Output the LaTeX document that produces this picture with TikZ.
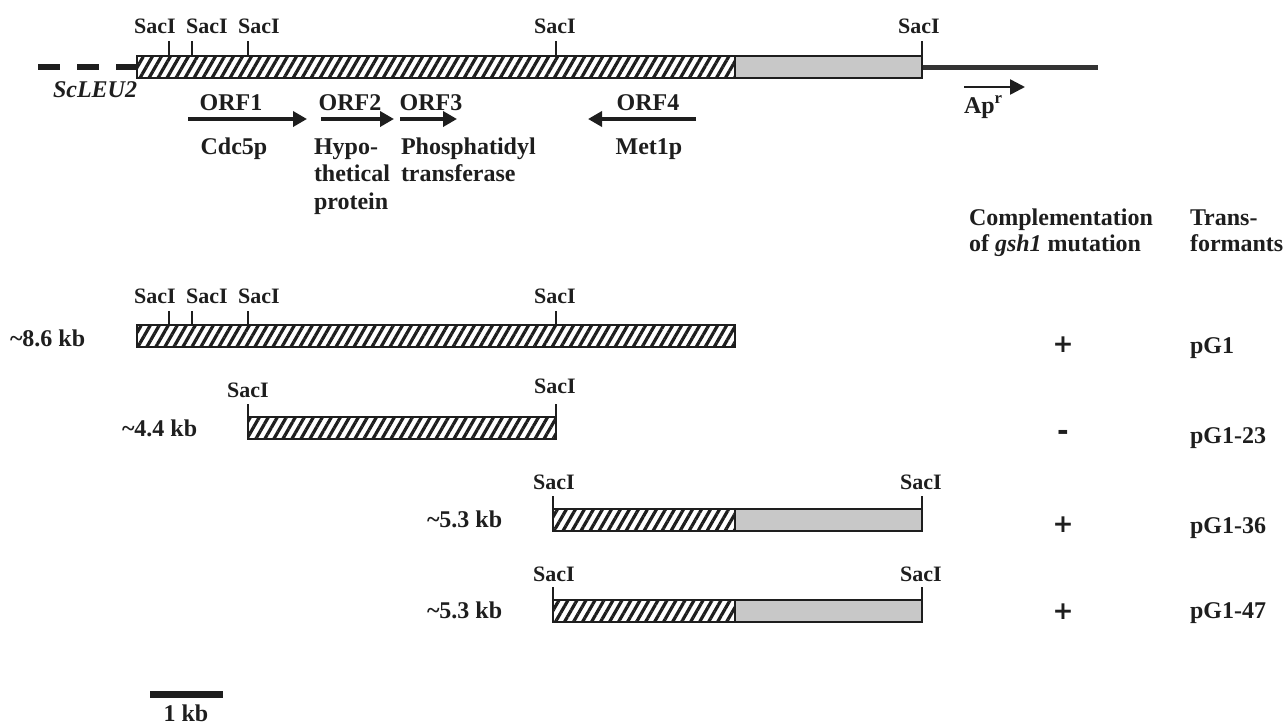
\documentclass[tikz,border=0pt]{standalone}
\usepackage{fontspec}
\setmainfont{Liberation Serif}
\newfontfamily\signfont{DejaVu Sans}
\usetikzlibrary{arrows.meta,patterns.meta}
\definecolor{boxgray}{RGB}{200,200,200}
\definecolor{ink}{RGB}{30,30,30}
\begin{document}
\begin{tikzpicture}[x=1pt,y=-1pt,
  every node/.style={inner sep=0pt, outer sep=0pt, text=ink, font=\fontsize{24}{28}\selectfont\bfseries},
  lbl/.style={font=\fontsize{22}{26}\selectfont\bfseries, anchor=base},
  txt/.style={anchor=base},
  txtl/.style={anchor=base west},
  sign/.style={font=\fontsize{25}{28}\selectfont\signfont\bfseries},
  hatchbox/.style={draw=ink, line width=2pt, pattern={Lines[angle=60,distance=7.8pt,line width=3.2pt]}, pattern color=ink},
  graybox/.style={draw=ink, line width=2pt, fill=boxgray},
  tickmark/.style={line width=1.6pt, draw=ink},
  orf/.style={draw=ink, line width=4.5pt, -{Triangle[length=14pt,width=15pt]}},
]
\useasboundingbox (0,0) rectangle (1285,726);

% ---------- top map ----------
\coordinate (dashA) at (38,67);
\coordinate (dashB) at (137,67);
\draw[ink, line width=6pt, dash pattern=on 22pt off 17pt] (dashA) -- (dashB);
\coordinate (vecA) at (922,67);
\coordinate (vecB) at (1098,67);
\draw[black!80, line width=5pt] (vecA) -- (vecB);
\path[hatchbox] (137,56) rectangle (735,78);
\path[graybox] (735,56) rectangle (922,78);
\foreach \x in {169,192,248,556,922} \draw[tickmark] (\x,41) -- (\x,56);
\node[lbl] (ts1) at (155,33) {SacI};
\node[lbl] (ts2) at (207,33) {SacI};
\node[lbl] (ts3) at (259,33) {SacI};
\node[lbl] (ts4) at (555,33) {SacI};
\node[lbl] (ts5) at (919,33) {SacI};
\node[anchor=base east, font=\fontsize{24}{28}\selectfont\bfseries\itshape] (leu) at (137,97) {ScLEU2};

\node[txt] (orf1) at (231,110) {ORF1};
\node[txt] (orf2) at (350,110) {ORF2};
\node[txt] (orf3) at (431,110) {ORF3};
\node[txt] (orf4) at (648,110) {ORF4};
\coordinate (a1s) at (188,119); \coordinate (a1e) at (307,119);
\coordinate (a2s) at (321,119); \coordinate (a2e) at (394,119);
\coordinate (a3s) at (400,119); \coordinate (a3e) at (457,119);
\coordinate (a4s) at (696,119); \coordinate (a4e) at (588,119);
\draw[orf] (a1s) -- (a1e);
\draw[orf] (a2s) -- (a2e);
\draw[orf] (a3s) -- (a3e);
\draw[orf] (a4s) -- (a4e);

\node[txt] (cdc) at (234,154) {Cdc5p};
\node[txtl] (hyp1) at (314,154) {Hypo-};
\node[txtl] (hyp2) at (314,181.5) {thetical};
\node[txtl] (hyp3) at (314,209) {protein};
\node[txtl] (pho1) at (401,154) {Phosphatidyl};
\node[txtl] (pho2) at (401,181.5) {transferase};
\node[txt] (met) at (649,154) {Met1p};

\coordinate (aps) at (964,87); \coordinate (ape) at (1025,87);
\draw[ink, line width=2.5pt, -{Triangle[length=15pt,width=15pt]}] (aps) -- (ape);
\node[txtl] (apr) at (964,113) {Ap\textsuperscript{r}};

\node[txtl] (comp1) at (969,225) {Complementation};
\node[txtl] (comp2) at (969,251) {of \textit{gsh1} mutation};
\node[txtl] (tr1) at (1190,225) {Trans-};
\node[txtl] (tr2) at (1190,251) {formants};

% ---------- pG1 ----------
\path[hatchbox] (137,325) rectangle (735,347);
\foreach \x in {169,192,248,556} \draw[tickmark] (\x,311) -- (\x,325);
\node[lbl] (r1s1) at (155,303) {SacI};
\node[lbl] (r1s2) at (207,303) {SacI};
\node[lbl] (r1s3) at (259,303) {SacI};
\node[lbl] (r1s4) at (555,303) {SacI};
\node[txtl] (kb1) at (10,346) {\textasciitilde8.6 kb};
\node[sign] (c1) at (1063,345) {+};
\node[txtl] (p1) at (1190,353) {pG1};

% ---------- pG1-23 ----------
\path[hatchbox] (248,417) rectangle (556,439);
\foreach \x in {248,556} \draw[tickmark] (\x,404) -- (\x,417);
\node[lbl] (r2s1) at (248,397) {SacI};
\node[lbl] (r2s2) at (555,393) {SacI};
\node[txtl] (kb2) at (122,436) {\textasciitilde4.4 kb};
\node[sign, font=\fontsize{28}{30}\selectfont\signfont\bfseries] (c2) at (1063,435) {-};
\node[txtl] (p2) at (1190,443) {pG1-23};

% ---------- pG1-36 ----------
\path[hatchbox] (553,509) rectangle (735,531);
\path[graybox] (735,509) rectangle (922,531);
\foreach \x in {553,922} \draw[tickmark] (\x,496) -- (\x,509);
\node[lbl] (r3s1) at (554,489) {SacI};
\node[lbl] (r3s2) at (921,489) {SacI};
\node[txtl] (kb3) at (427,527) {\textasciitilde5.3 kb};
\node[sign] (c3) at (1063,525) {+};
\node[txtl] (p3) at (1190,533) {pG1-36};

% ---------- pG1-47 ----------
\path[hatchbox] (553,600) rectangle (735,622);
\path[graybox] (735,600) rectangle (922,622);
\foreach \x in {553,922} \draw[tickmark] (\x,587) -- (\x,600);
\node[lbl] (r4s1) at (554,581) {SacI};
\node[lbl] (r4s2) at (921,581) {SacI};
\node[txtl] (kb4) at (427,618) {\textasciitilde5.3 kb};
\node[sign] (c4) at (1063,612) {+};
\node[txtl] (p4) at (1190,618) {pG1-47};

% ---------- scale bar ----------
\coordinate (sbA) at (150,694.5); \coordinate (sbB) at (223,694.5);
\draw[ink, line width=7pt] (sbA) -- (sbB);
\node[txt] (sbl) at (186,721) {1 kb};
\end{tikzpicture}
\end{document}
